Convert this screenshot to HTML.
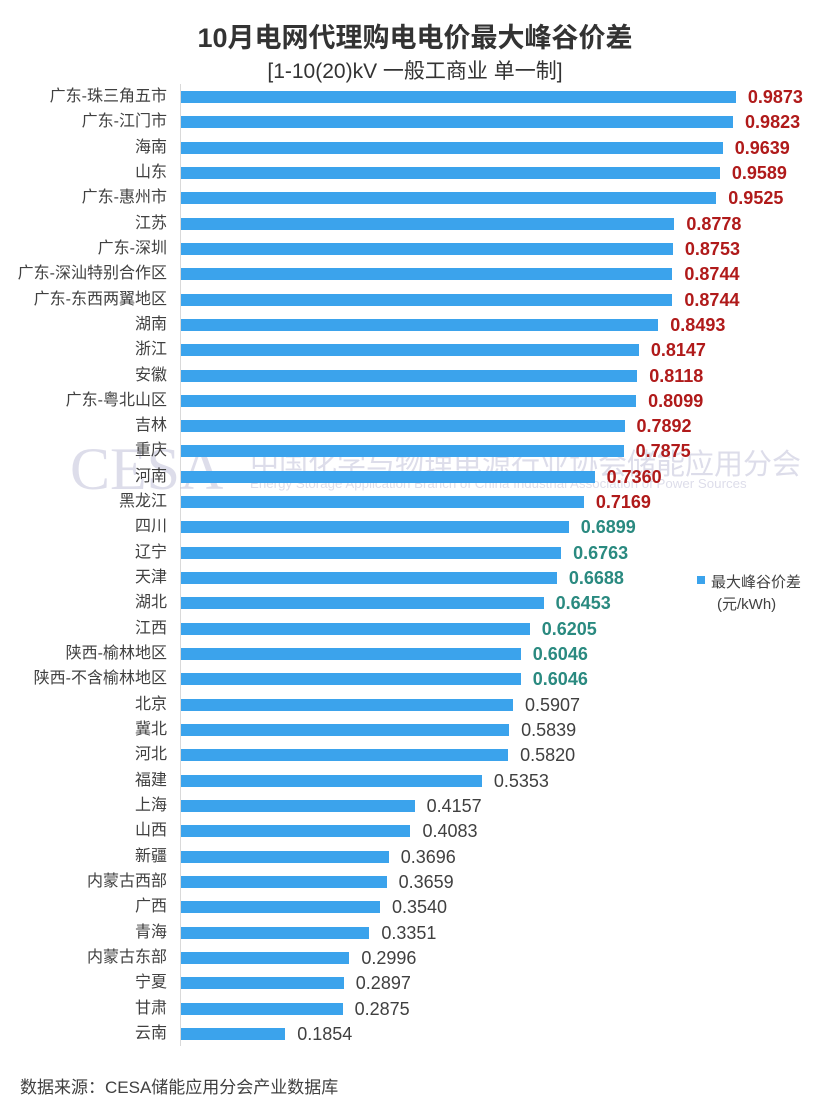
<!DOCTYPE html><html><head><meta charset="utf-8"><style>
body{margin:0;width:830px;height:1111px;background:#fff;font-family:"Liberation Sans","Noto Sans CJK SC",sans-serif;position:relative;overflow:hidden}
.t{position:absolute;white-space:nowrap}
.lb{position:absolute;right:663px;font-size:16px;color:#404040;line-height:20px}
.bar{position:absolute;left:181px;height:12px;background:#3ba3ec}
.v{position:absolute;font-size:18px;line-height:20px;color:#404040}
.r{color:#b01a1a;font-weight:bold}.g{color:#2a8a80;font-weight:bold}
</style></head><body>
<div class="t" style="left:0;width:830px;text-align:center;top:16px;font-size:27px;font-weight:bold;color:#333">10月电网代理购电电价最大峰谷价差</div>
<div class="t" style="left:0;width:830px;text-align:center;top:55px;font-size:21px;color:#333">[1-10(20)kV 一般工商业 单一制]</div>
<div style="position:absolute;left:180px;top:84px;width:1px;height:962px;background:#d9d9d9"></div>
<div class="t" style="left:70px;top:435px;font-size:60px;font-family:'Liberation Serif',serif;color:rgba(120,120,170,0.25)">CESA</div>
<div class="t" style="left:250px;top:441px;font-size:29px;color:rgba(120,120,170,0.25)">中国化学与物理电源行业协会储能应用分会</div>
<div class="t" style="left:250px;top:476px;font-size:13.3px;color:rgba(120,120,170,0.25)">Energy Storage Application Branch of China Industrial Association of Power Sources</div>
<div id="c"></div>
<div style="position:absolute;left:697px;top:576px;width:8px;height:8px;background:#3ba3ec"></div>
<div class="t" style="left:711px;top:571px;font-size:15px;color:#404040">最大峰谷价差</div>
<div class="t" style="left:717px;top:593px;font-size:15px;color:#404040">(元/kWh)</div>
<div class="t" style="left:20px;top:1073px;font-size:17px;color:#404040">数据来源：CESA储能应用分会产业数据库</div>
<script>
const d=[["广东-珠三角五市",.9873],["广东-江门市",.9823],["海南",.9639],["山东",.9589],["广东-惠州市",.9525],["江苏",.8778],["广东-深圳",.8753],["广东-深汕特别合作区",.8744],["广东-东西两翼地区",.8744],["湖南",.8493],["浙江",.8147],["安徽",.8118],["广东-粤北山区",.8099],["吉林",.7892],["重庆",.7875],["河南",.7360],["黑龙江",.7169],["四川",.6899],["辽宁",.6763],["天津",.6688],["湖北",.6453],["江西",.6205],["陕西-榆林地区",.6046],["陕西-不含榆林地区",.6046],["北京",.5907],["冀北",.5839],["河北",.5820],["福建",.5353],["上海",.4157],["山西",.4083],["新疆",.3696],["内蒙古西部",.3659],["广西",.3540],["青海",.3351],["内蒙古东部",.2996],["宁夏",.2897],["甘肃",.2875],["云南",.1854]];
let h="";d.forEach((e,i)=>{const c=97+i*25.32,w=e[1]*562,cl=i<17?"r":i<24?"g":"";
h+=`<div class="lb" style="top:${c-10}px">${e[0]}</div><div class="bar" style="top:${c-6}px;width:${w}px"></div><div class="v ${cl}" style="left:${181+w+12}px;top:${c-10}px">${e[1].toFixed(4)}</div>`});
document.getElementById("c").innerHTML=h;
</script></body></html>
